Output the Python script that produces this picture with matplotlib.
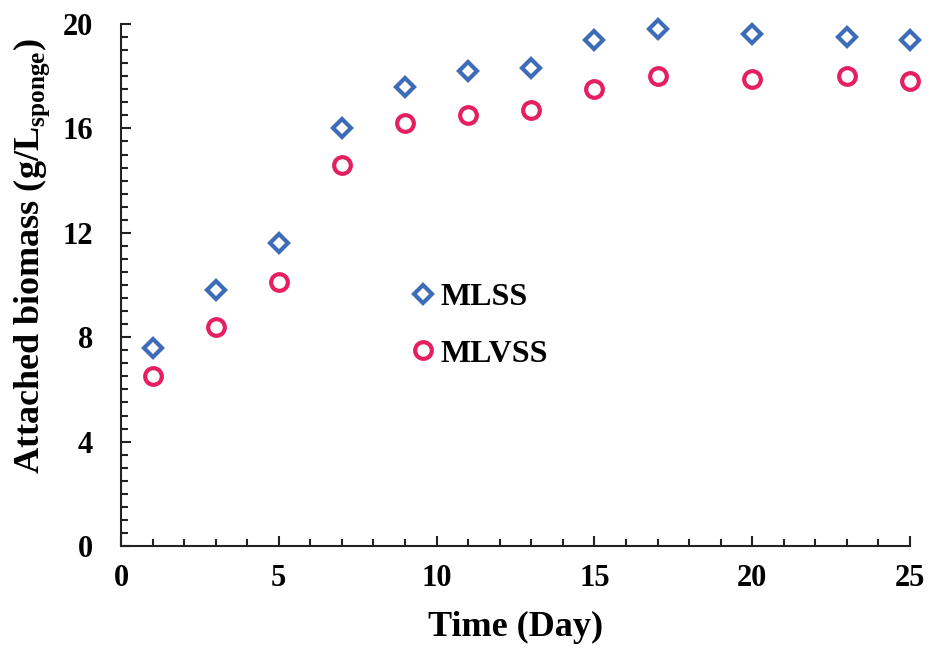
import matplotlib
matplotlib.use("Agg")
import matplotlib.pyplot as plt
from matplotlib.ticker import MultipleLocator

days_mlss = [1, 3, 5, 7, 9, 11, 13, 15, 17, 20, 23, 25]
mlss = [7.6, 9.8, 11.6, 16.0, 17.6, 18.2, 18.3, 19.4, 19.8, 19.6, 19.5, 19.4]
days_mlvss = [1, 3, 5, 7, 9, 11, 13, 15, 17, 20, 23, 25]
mlvss = [6.5, 8.4, 10.1, 14.6, 16.2, 16.5, 16.7, 17.5, 18.0, 17.9, 18.0, 17.8]

plt.rcParams['font.family'] = ['Liberation Serif', 'DejaVu Serif']
plt.rcParams['font.weight'] = 'bold'
plt.rcParams['mathtext.fontset'] = 'custom'
plt.rcParams['mathtext.rm'] = 'Liberation Serif:bold'
plt.rcParams['mathtext.bf'] = 'Liberation Serif:bold'

fig = plt.figure(figsize=(9.31, 6.5), dpi=100)
ax = fig.add_axes([121/931, 1-546/650, (910-121)/931, (546-24)/650])

ax.plot(days_mlss, mlss, linestyle='none', marker='D', markersize=9.5,
        markerfacecolor='white', markeredgecolor='#3D6CB8', markeredgewidth=3, label='MLSS',
        clip_on=False, zorder=3)
ax.plot(days_mlvss, mlvss, linestyle='none', marker='o', markersize=12,
        markerfacecolor='white', markeredgecolor='#E5205F', markeredgewidth=3, label='MLVSS',
        clip_on=False, zorder=3)

ax.set_xlim(0, 25)
ax.set_ylim(0, 20)
ax.xaxis.set_major_locator(MultipleLocator(5))
ax.xaxis.set_minor_locator(MultipleLocator(1))
ax.yaxis.set_major_locator(MultipleLocator(4))
ax.yaxis.set_minor_locator(MultipleLocator(0.5))
for s in ['top', 'right']:
    ax.spines[s].set_visible(False)
for s in ['left', 'bottom']:
    ax.spines[s].set_linewidth(1.5)
    ax.spines[s].set_color('#222222')
ax.tick_params(which='major', direction='in', length=7, width=1.5, labelsize=22, color='#222222')
ax.tick_params(which='minor', direction='in', length=5, width=1.5, color='#222222')
ax.tick_params(axis='x', which='major', pad=13)
ax.tick_params(axis='y', which='major', pad=20)
for lab in ax.get_xticklabels() + ax.get_yticklabels():
    lab.set_fontweight('bold')

ax.set_xlabel('Time (Day)', fontsize=26, fontweight='bold', labelpad=13)
ax.set_ylabel(r'Attached biomass (g/L$_{\mathbf{sponge}}$)', fontsize=26, fontweight='bold')
ax.yaxis.set_label_coords(-0.088, 0.555)

leg = ax.legend(loc='center left', bbox_to_anchor=(0.362, 0.422), frameon=False, fontsize=23,
                handletextpad=0.05, labelspacing=0.85, handlelength=1.0, borderaxespad=0,
                borderpad=0)
for t in leg.get_texts():
    t.set_fontweight('bold')

fig.savefig('out.png', dpi=100)
